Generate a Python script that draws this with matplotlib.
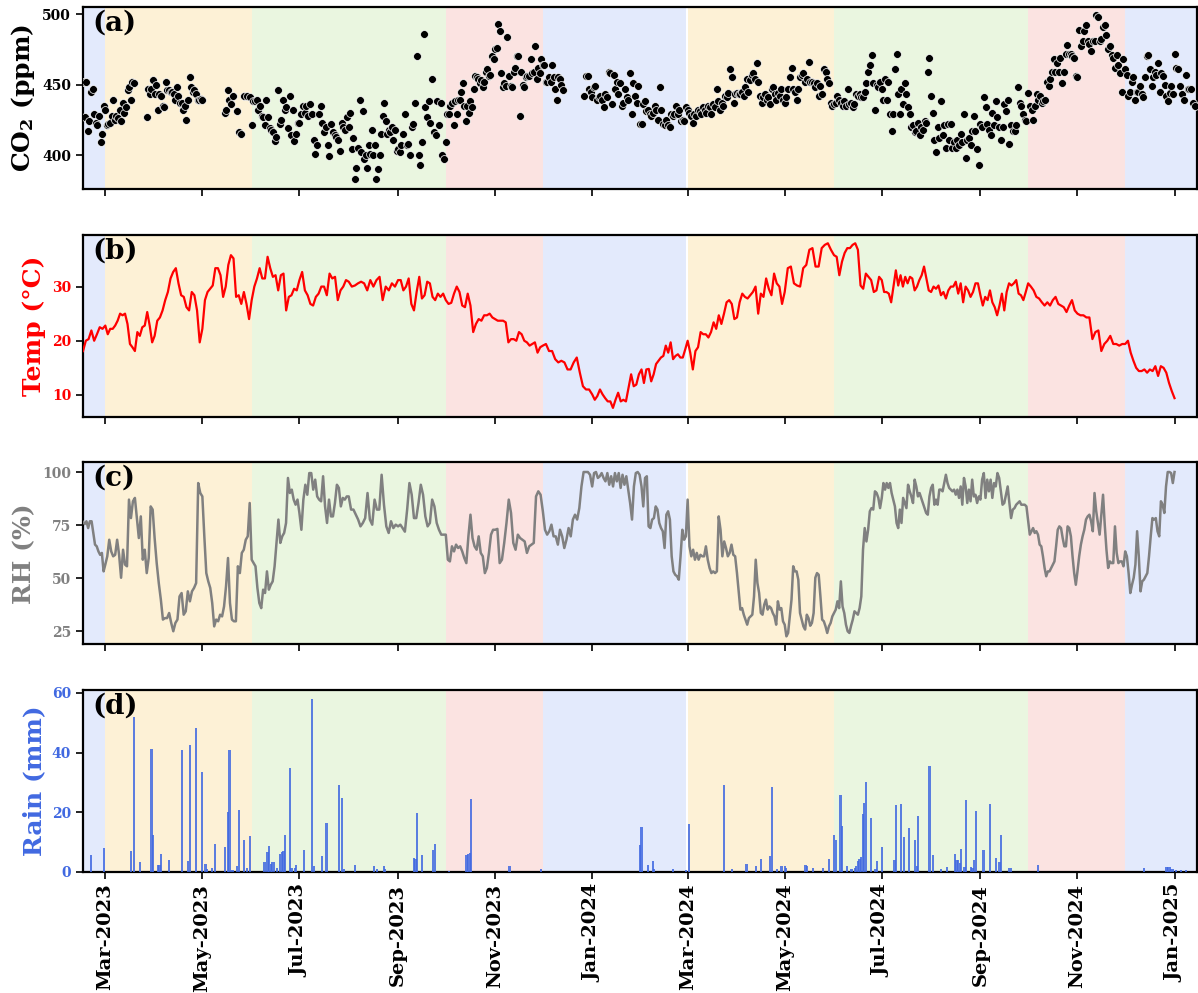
import numpy as np
import pandas as pd
import matplotlib
matplotlib.use('Agg')
import matplotlib.pyplot as plt
import matplotlib.dates as mdates

nan = np.nan

# Bornes des segments mensuels (premier segment : 15 fév -> 1er mars 2023)
edges = ([pd.Timestamp('2023-02-15')]
         + list(pd.date_range('2023-03-01', '2025-01-01', freq='MS'))
         + [pd.Timestamp('2025-01-15')])

# CO2 (ppm), une liste par mois : fév-23 ... déc-24, jan-25
co2_by_month = [
    [452, 427, 452, 417, 424, 445, 447, 429, 423, 421, 428, 409, 415, 435],
    [432, 421, 422, 423, 428, 439, 425, 428, 426, 432, 424, 437, 430, 434, 446, 448, 439, 452, 451,
     nan, nan, nan, nan, nan, nan, nan, 427, 447, 443, 447, 453],
    [443, 450, 432, 443, 442, 435, 434, 452, 446, 446, 445, 445, 443, 439, 448, 442, 437, 437, 432, 435,
     425, 439, 455, 448, 445, 446, 443, 439, 439, 440],
    [439, nan, nan, nan, nan, nan, nan, nan, nan, nan, nan, nan, nan, nan, 430, 432, 446, 439, 436, 442,
     nan, nan, 431, 416, 415, nan, 442, nan, 442, nan, 441],
    [421, 438, 438, 439, 432, 435, 428, 427, 421, 439, 427, 419, 418, 416, 410, 413, 446, 422, 425, 439,
     432, 434, 419, 442, 414, 432, 410, 415, 423],
    [423, 429, 435, 430, 435, 428, 436, 429, 411, 401, 407, 429, 435, 423, 416, 420, 407, 399, 422, 416,
     414, 413, 411, 403, 423, 420, 418, 427],
    [420, 430, 404, 412, 383, 391, 405, 439, 402, 431, 397, 400, 391, 407, 401, 418, 400, 407, 383, 390,
     400, 415, 428, 437, 424, 415, 418, 416, 420, 411, 418, 403],
    [404, 402, 407, 415, 429, 407, 408, 400, 420, 422, 437, 470, 400, 393, 409, 486, 434, 427, 438, 423,
     454, 416, 414, 438, 421, 437, 400, 397],
    [409, 429, 429, 435, 437, 421, 438, 429, 439, 439, 445, 451, 435, 424, 435, 430, 438, 434, 447, 456,
     455, 454, 451, 453, 448, 452, 459, 461, 456, 457, 470, 468],
    [475, 476, 493, 488, 458, 448, 451, 449, 484, 456, 449, 448, 459, 462, 470, 470, 428, 459, 450, 448,
     455, 456, 456, 468, 458, 459, 477, 454, 462, 458, 468],
    [464, 464, 452, 452, 455, 452, 464, 455, 447, 439, 455, 454, 450, 446, nan, nan, nan, nan, nan, nan,
     nan, nan, nan, nan, nan, nan, nan, 442, 456, 456, 447, 445],
    [441, 448, 449, 439, 441, 442, 439, 434, 443, 441, 459, 458, 436, 457, 447, 452, 443, 451, 435, 437,
     447, 441, 439, 458, 429, 451, 442, 437, 449, 422],
    [422, 436, 438, 431, 432, 429, 428, 430, 435, 432, 425, 448, 432, 422, 421, 425, 421, 420, 429, 428,
     429, 435, 429, 432, 424, 425, 424, 434],
    [432, 430, 428, 423, 429, 428, 432, 431, 429, 434, 432, 430, 435, 434, 429, 436, 434, 447, 438, 432,
     437, 435, 442, 441, 444, 461, 455, 437, 443],
    [444, 443, 443, 445, 442, 448, 454, 445, 453, 457, 458, 454, 465, 452, 442, 437, 441, 443, 439, 441,
     436, 447, 448, 443, 439, 444, 442, 447, 439],
    [437, 441, 447, 455, 462, 447, 445, 439, 447, 455, 457, 458, 452, 454, 466, 452, 452, 451, 448, 451,
     442, 449, 443, 461, 459, 454, 451, 437, 435],
    [436, 437, 442, 439, 437, 435, 438, 435, 447, 436, 437, 434, 436, 443, 442, 443, 441, 441, 445, 451,
     459, 464, 471, 451, 432, 450, 448, 452],
    [447, 439, 454, 439, 452, 429, 417, 429, 461, 472, 443, 429, 447, 436, 451, 443, 434, 429, 420, 421,
     416, 417, 423, 414, 420, 418, 424, 423, 459, 469],
    [442, 430, 411, 402, 420, 412, 438, 414, 421, 405, 422, 411, 422, 405, 409, 405, 411, 407, 415, 409,
     429, 398, 411, 412, 407, 417, 428, 417, 404, 393],
    [422, 420, 441, 434, 422, 418, 414, 430, 421, 438, 427, 420, 411, 420, 436, 431, 439, 408, 421, 417,
     417, 421, 448, 437, 435, 429, 425, 424],
    [444, 435, 432, 425, 435, 443, 439, 442, 437, 438, 439, 452, 449, 454, 459, 468, 459, 465, 459, 469,
     451, 459, 472, 478, 472, 472, 470, 469, 456],
    [455, 489, 477, 481, 488, 492, 481, 479, 474, 481, 481, 499, 498, 481, 482, 491, 492, 485, 475, 477,
     471, 469, 462, 471, 464, 458, 445, 468],
    [461, 457, 442, 445, 452, 455, 439, 445, 445, 449, 443, 441, 455, 470, 471, 461, 449, 455, 459, 457,
     465, 445, 458, 456, 450, 442, 438, 444, 449, 443],
    [472, 462, 461, 449, 443, 439, 457, 447, 447, 447, 437, 435],
]

# Température (°C)
temp_by_month = [
    [18.1, 20.0, 20.3, 21.9, 20.0, 21.2, 22.5, 22.2],
    [22.8, 21.2, 22.2, 22.2, 22.8, 23.7, 25.0, 24.7, 25.0, 23.1, 19.4, 18.8, 18.1, 21.6, 20.9, 22.5, 22.8, 25.3, 22.8, 19.7],
    [20.9, 23.7, 24.3, 25.6, 27.5, 29.0, 31.5, 32.7, 33.4, 30.6, 28.4, 28.1, 26.2, 25.6, 29.0, 28.4, 25.6, 19.7],
    [22.2, 27.5, 29.0, 29.6, 30.2, 33.4, 33.4, 32.1, 28.1, 30.0, 34.0, 35.8, 35.2, 28.1, 28.4, 26.8, 29.0, 26.8, 24.0],
    [27.5, 30.0, 31.5, 33.4, 31.5, 31.5, 35.5, 33.4, 31.8, 32.1, 29.3, 32.1, 32.4, 25.6, 28.1, 28.4, 29.6, 29.3],
    [31.2, 32.7, 29.3, 28.4, 26.8, 26.5, 28.1, 28.7, 30.0, 30.0, 28.4, 32.4, 31.5, 31.8, 27.5, 29.3, 30.0, 31.2],
    [30.9, 30.0, 30.2, 30.6, 30.9, 30.6, 29.3, 31.2, 30.0, 31.2, 31.8, 27.5, 30.0, 29.3, 30.6, 30.0],
    [31.2, 31.2, 29.3, 30.0, 31.5, 26.8, 25.6, 29.0, 31.8, 27.8, 28.4, 30.9, 30.6, 28.1, 27.5, 28.7, 28.1, 28.7],
    [27.5, 26.8, 27.0, 28.7, 30.0, 29.0, 26.5, 26.2, 28.7, 26.5, 21.6, 23.1, 24.0, 23.7, 24.7, 24.7, 25.0, 24.3],
    [24.0, 23.7, 23.7, 23.7, 23.4, 19.7, 20.3, 20.3, 20.0, 21.6, 21.2, 20.0, 19.7, 19.1, 19.4, 19.7, 17.8, 18.8],
    [19.1, 19.4, 18.1, 18.1, 16.6, 16.0, 16.3, 16.0, 14.7, 14.7, 16.0, 16.9, 14.1, 11.6, 11.0, 11.0],
    [10.1, 9.1, 9.8, 11.0, 10.1, 9.4, 8.8, 8.8, 7.6, 9.1, 10.4, 8.8, 9.1, 8.8, 11.3, 13.8, 11.6, 11.9, 13.8],
    [14.7, 12.2, 14.7, 14.8, 12.5, 13.8, 15.7, 16.3, 16.9, 17.2, 19.1, 17.8, 19.7, 16.6, 17.2, 17.5, 16.9, 16.9, 18.4],
    [20.0, 17.8, 14.7, 18.1, 18.8, 21.6, 21.2, 21.2, 20.6, 21.6, 23.4, 22.2, 24.7, 23.1, 25.0, 27.1, 27.5, 26.8, 24.0],
    [24.3, 27.1, 28.7, 28.1, 27.8, 28.4, 29.0, 30.0, 25.0, 28.7, 28.1, 31.5, 29.6, 28.4, 32.4, 30.6, 30.0, 26.8],
    [29.0, 33.4, 33.7, 30.6, 30.2, 30.0, 33.4, 34.0, 36.8, 37.1, 33.7, 33.7, 37.1, 37.7, 38.0, 36.8],
    [35.8, 35.5, 32.1, 34.6, 36.2, 37.1, 37.1, 37.7, 38.0, 36.8, 30.2, 29.6, 32.4, 31.8, 31.2, 29.0, 29.3, 31.8],
    [31.2, 29.0, 29.0, 28.7, 27.1, 30.0, 33.0, 30.2, 32.1, 30.0, 31.8, 30.6, 31.8, 31.5, 29.3, 30.0, 31.2, 32.1, 33.7, 31.5, 29.3],
    [29.0, 30.0, 29.6, 30.2, 28.4, 29.0, 27.8, 29.3, 30.0, 30.0, 30.9, 28.7, 30.6, 27.1, 30.0, 29.3, 28.1, 29.0, 30.6, 30.6],
    [28.4, 26.5, 28.1, 27.5, 29.3, 27.1, 26.2, 24.7, 26.5, 28.7, 25.6, 29.0, 30.6, 30.2, 30.6, 31.2, 28.7, 28.4, 27.5, 29.0],
    [30.6, 30.0, 29.3, 28.1, 27.8, 27.1, 26.5, 27.1, 26.5, 27.5, 28.1, 26.8, 26.5, 26.2, 25.3, 26.5, 27.5, 25.6],
    [25.0, 24.7, 24.7, 24.3, 24.3, 20.3, 21.6, 21.9, 18.1, 19.4, 20.0, 20.9, 19.4, 19.4, 19.1, 19.4],
    [19.4, 20.0, 17.8, 16.3, 15.0, 14.4, 14.4, 14.7, 14.1, 14.7, 14.4, 15.3, 13.5, 15.3, 15.0, 14.1, 12.2, 10.7],
    [9.4],
]

# Humidité relative (%)
rh_by_month = [
    [76.5, 75.5, 76.8, 73.6, 76.8, 76.8, 71.3, 65.8, 65.0, 62.6, 61.0, 61.9, 53.2],
    [56.4, 60.3, 68.1, 62.6, 60.3, 61.0, 68.1, 61.0, 50.2, 63.4, 56.4, 55.6, 87.0, 78.3, 86.2, 87.8, 78.3, 68.9, 79.1, 58.7,
     63.4, 52.4, 59.5, 83.8, 82.3],
    [68.9, 57.1, 47.7, 39.9, 30.5, 31.2, 31.2, 33.6, 28.9, 25.0, 28.9, 30.5, 41.4, 43.0, 32.8, 34.4, 43.8, 39.1, 43.8, 45.4,
     47.7, 94.8, 90.1],
    [88.5, 69.7, 52.4, 48.5, 45.4, 38.3, 27.3, 30.5, 29.7, 32.8, 32.0, 36.7, 46.2, 59.5, 38.3, 30.5, 29.7, 29.7, 55.6, 52.4,
     61.9, 63.4, 68.1, 69.7, 85.4],
    [58.7, 57.1, 55.6, 45.4, 38.3, 35.9, 44.6, 43.0, 53.2, 44.6, 46.9, 48.5, 55.6, 66.6, 77.6, 66.6, 69.7, 71.3, 76.0, 97.2,
     90.1, 91.7, 87.0, 84.6, 87.0],
    [80.7, 72.8, 87.0, 94.0, 89.3, 99.5, 99.5, 91.7, 96.4, 88.5, 87.0, 86.2, 98.0, 83.8, 76.0, 87.0, 79.1, 79.1, 85.4, 94.0,
     92.5, 83.8, 87.8, 87.0, 88.5],
    [88.5, 82.3, 82.3, 79.9, 77.6, 74.4, 76.0, 78.3, 90.1, 77.6, 75.2, 87.0, 82.3, 82.3, 98.7, 84.6, 74.4, 71.3, 76.8, 73.6, 75.2],
    [74.4, 75.2, 73.6, 71.9, 82.3, 94.8, 89.3, 78.3, 78.3, 85.4, 94.0, 89.3, 79.1, 74.4, 76.0, 87.0, 83.8, 76.0, 72.8, 70.5, 70.5],
    [70.5, 58.7, 57.9, 65.0, 62.6, 65.8, 64.2, 65.0, 62.6, 59.5, 57.1, 69.7, 79.9, 68.9, 65.0, 63.4, 69.7, 61.9, 60.3, 52.4,
     54.8, 61.9, 70.5, 72.8],
    [72.8, 73.2, 57.1, 58.7, 66.6, 76.0, 87.0, 80.7, 66.6, 63.4, 70.5, 68.9, 68.1, 67.3, 61.9, 65.0, 65.8, 66.6, 88.5, 90.9, 89.3],
    [81.5, 72.8, 70.5, 72.1, 75.2, 69.7, 69.7, 65.8, 72.8, 69.7, 64.2, 68.1, 73.6, 69.7, 77.6, 79.9, 77.6, 83.0, 93.2, 100.0,
     100.0, 100.0, 98.7],
    [93.2, 99.5, 100.0, 97.2, 98.0, 99.5, 97.2, 95.6, 99.5, 94.0, 98.0, 93.2, 99.5, 95.6, 99.5, 92.5, 98.7, 94.0, 98.0, 91.7,
     85.4, 77.6, 93.2, 99.5, 100.0, 98.7],
    [93.2, 83.8, 97.2, 98.0, 74.4, 73.6, 77.6, 78.3, 83.8, 82.3, 76.0, 73.6, 72.1, 64.2, 79.9, 81.5, 77.6, 60.3, 53.2, 51.6,
     50.9, 49.3, 60.3, 72.8, 68.1, 69.7],
    [87.0, 65.0, 60.3, 63.4, 58.7, 61.9, 58.7, 61.0, 60.3, 60.3, 65.0, 58.7, 54.8, 52.4, 53.2, 52.4, 53.2, 79.1, 72.8, 60.3,
     67.3, 64.2, 60.3, 61.9, 65.8, 61.0, 60.3],
    [52.4, 43.8, 35.2, 35.9, 32.8, 30.5, 28.1, 31.2, 32.0, 32.8, 41.4, 58.7, 47.7, 43.0, 33.6, 32.8, 37.5, 39.9, 35.2, 36.7,
     35.9, 33.6, 32.0, 28.1, 39.1, 35.2, 35.9, 29.7],
    [28.1, 22.6, 24.2, 32.0, 39.9, 55.6, 53.2, 53.2, 49.3, 33.6, 30.5, 27.3, 25.8, 32.8, 31.2, 27.6, 28.9, 33.6, 50.2, 52.4,
     51.6, 41.4, 30.5, 29.7, 27.3, 24.2, 27.3, 28.9, 32.0],
    [33.6, 35.2, 39.1, 35.9, 48.5, 36.7, 33.6, 28.1, 25.0, 24.2, 27.6, 30.5, 34.4, 33.6, 32.8, 35.9, 41.4, 63.4, 73.6, 67.3,
     72.8, 81.5, 83.0, 82.3, 90.9, 90.1, 87.8, 83.0],
    [87.8, 94.8, 91.7, 94.8, 92.5, 94.8, 90.1, 87.0, 83.8, 76.0, 73.6, 82.3, 76.0, 87.8, 85.4, 83.0, 94.0, 90.9, 88.5, 85.4,
     96.4, 93.2, 88.5, 90.1, 87.8, 85.4, 83.0, 80.7, 79.9, 88.5],
    [92.5, 94.0, 84.6, 87.0, 84.6, 91.7, 91.7, 90.9, 94.8, 98.7, 94.8, 92.5, 91.7, 90.9, 91.7, 89.3, 91.7, 87.8, 93.2, 84.6,
     97.2, 93.2, 85.4, 91.7, 86.2, 96.4, 88.5, 89.3, 85.4, 88.5],
    [87.0, 96.4, 99.5, 87.8, 96.4, 90.9, 96.4, 87.8, 94.8, 93.2, 99.5, 97.2, 90.9, 84.6, 85.4, 89.3, 93.2, 85.4, 78.3, 82.3,
     83.0, 84.6, 85.4, 86.2, 84.6, 84.6, 84.6, 83.8],
    [76.8, 70.5, 72.1, 73.6, 71.3, 72.1, 70.5, 65.8, 65.0, 60.3, 54.8, 50.9, 53.2, 53.2, 54.8, 56.4, 57.9, 65.0, 72.8, 74.4,
     73.6, 68.9, 65.0, 65.0, 74.4, 73.6, 69.7, 60.3, 52.4, 46.9],
    [53.2, 60.3, 65.8, 69.7, 72.8, 77.6, 79.1, 79.9, 76.8, 72.1, 90.1, 81.5, 76.0, 70.5, 79.9, 89.3, 75.2, 63.4, 54.8, 57.9,
     57.1, 57.1, 74.4, 61.9, 57.1, 57.9, 57.9, 55.6],
    [62.6, 60.3, 52.4, 43.0, 46.9, 50.2, 56.4, 72.1, 60.3, 43.8, 48.5, 49.3, 50.9, 52.4, 60.3, 69.7, 78.3, 77.6, 78.3, 72.1,
     69.7, 86.2, 84.6, 80.7, 93.2, 100.0, 100.0, 99.5, 94.8],
    [100.0],
]

# Pluie journalière (mm) : jours de pluie uniquement
rain_days = [
    '2023-02-20', '2023-02-28', '2023-03-17', '2023-03-19', '2023-03-23', '2023-03-30', '2023-03-31',
    '2023-04-03', '2023-04-04', '2023-04-05', '2023-04-10', '2023-04-18', '2023-04-22', '2023-04-23',
    '2023-04-27', '2023-05-01', '2023-05-03', '2023-05-04', '2023-05-07', '2023-05-09', '2023-05-15',
    '2023-05-17', '2023-05-18', '2023-05-20', '2023-05-23', '2023-05-24', '2023-05-27', '2023-05-29',
    '2023-05-31', '2023-06-09', '2023-06-11', '2023-06-12', '2023-06-13', '2023-06-14', '2023-06-15',
    '2023-06-17', '2023-06-19', '2023-06-20', '2023-06-21', '2023-06-22', '2023-06-25', '2023-06-26',
    '2023-06-28', '2023-06-29', '2023-07-04', '2023-07-09', '2023-07-10', '2023-07-15', '2023-07-18',
    '2023-07-26', '2023-07-28', '2023-07-29', '2023-08-05', '2023-08-17', '2023-08-19', '2023-08-23',
    '2023-08-24', '2023-09-11', '2023-09-12', '2023-09-13', '2023-09-16', '2023-09-23', '2023-09-24',
    '2023-10-03', '2023-10-14', '2023-10-15', '2023-10-16', '2023-10-17', '2023-11-10', '2023-11-30',
    '2024-01-31', '2024-02-01', '2024-02-05', '2024-02-08', '2024-02-09', '2024-02-21', '2024-02-29',
    '2024-03-02', '2024-03-24', '2024-03-29', '2024-04-07', '2024-04-13', '2024-04-16', '2024-04-22',
    '2024-04-23', '2024-04-26', '2024-04-29', '2024-05-01', '2024-05-02', '2024-05-14', '2024-05-15',
    '2024-05-19', '2024-05-25', '2024-05-29', '2024-06-01', '2024-06-02', '2024-06-05', '2024-06-06',
    '2024-06-09', '2024-06-12', '2024-06-14', '2024-06-15', '2024-06-16', '2024-06-17', '2024-06-18',
    '2024-06-19', '2024-06-20', '2024-06-21', '2024-06-24', '2024-06-27', '2024-06-28', '2024-07-01',
    '2024-07-09', '2024-07-10', '2024-07-13', '2024-07-15', '2024-07-18', '2024-07-22', '2024-07-23',
    '2024-07-24', '2024-07-31', '2024-08-02', '2024-08-07', '2024-08-11', '2024-08-16', '2024-08-17',
    '2024-08-18', '2024-08-19', '2024-08-20', '2024-08-22', '2024-08-23', '2024-08-26', '2024-08-27',
    '2024-08-28', '2024-08-29', '2024-09-03', '2024-09-07', '2024-09-11', '2024-09-13', '2024-09-14',
    '2024-09-19', '2024-09-20', '2024-10-07', '2024-12-13', '2024-12-27', '2024-12-28', '2024-12-29',
    '2024-12-30', '2024-12-31', '2025-01-02', '2025-01-05', '2025-01-08',
]
rain_mm = [
    5.6, 8.1, 6.9, 52.0, 3.3, 41.1, 12.4,
    2.2, 2.3, 5.9, 3.9, 41.0, 3.6, 42.4,
    48.1, 33.6, 2.6, 0.8, 1.4, 9.2, 8.3,
    20.2, 40.8, 0.5, 1.9, 20.8, 10.8, 1.2,
    12.1, 3.3, 6.7, 8.7, 2.8, 3.3, 3.3,
    1.4, 5.9, 6.7, 7.0, 12.4, 34.8, 1.4,
    1.4, 2.2, 7.2, 57.8, 2.0, 5.2, 16.3,
    29.1, 24.6, 0.8, 2.3, 2.0, 0.8, 1.8,
    1.0, 4.6, 4.4, 19.7, 5.6, 7.3, 9.2,
    0.3, 5.8, 6.1, 6.4, 24.4, 1.9, 1.0,
    8.9, 15.0, 2.2, 3.7, 0.8, 1.1, 0.6,
    15.9, 29.1, 0.8, 2.8, 2.0, 4.2, 5.2,
    28.6, 1.1, 2.0, 1.9, 1.3, 2.4, 1.9,
    1.3, 1.3, 4.2, 12.2, 10.6, 25.6, 15.3,
    2.1, 1.1, 1.3, 1.8, 3.8, 4.2, 5.0,
    19.4, 23.1, 30.0, 18.0, 1.1, 3.6, 8.3,
    4.1, 22.4, 22.8, 11.7, 14.8, 10.8, 2.0,
    18.6, 35.6, 5.6, 1.1, 1.7, 6.1, 3.9,
    3.9, 3.0, 7.6, 1.7, 24.2, 1.7, 1.3,
    3.9, 20.3, 7.2, 22.8, 4.7, 3.3, 12.2,
    1.4, 1.4, 2.4, 1.4, 1.7, 1.7, 1.5,
    1.0, 0.8, 0.6, 0.5, 0.5,
]

# Saisons (début, fin, saison)
season_start = ['2023-02-01', '2023-03-01', '2023-06-01', '2023-10-01', '2023-12-01',
                '2024-03-01', '2024-06-01', '2024-10-01', '2024-12-01']
season_end = ['2023-03-01', '2023-06-01', '2023-10-01', '2023-12-01', '2024-02-29',
              '2024-06-01', '2024-10-01', '2024-12-01', '2025-02-01']
season_name = ['hiver', 'printemps', 'ete', 'automne', 'hiver',
               'printemps', 'ete', 'automne', 'hiver']
season_colors = {'hiver': '#e3eafc', 'printemps': '#fdf1d6', 'ete': '#eaf6e0', 'automne': '#fbe3e1'}


def spread(segments):
    # répartit les valeurs de chaque mois régulièrement sur le mois
    xs, ys = [], []
    for k, vals in enumerate(segments):
        if len(vals) == 0:
            continue
        t0, t1 = edges[k], edges[k + 1]
        step = (t1 - t0) / len(vals)
        for j, v in enumerate(vals):
            xs.append(t0 + j * step)
            ys.append(v)
    return pd.DatetimeIndex(xs), np.array(ys, dtype=float)


co2_t, co2 = spread(co2_by_month)
temp_t, temp = spread(temp_by_month)
rh_t, rh = spread(rh_by_month)
rain_t = pd.to_datetime(rain_days)

plt.rcParams['font.family'] = 'DejaVu Serif'
plt.rcParams['font.weight'] = 'bold'
plt.rcParams['mathtext.fontset'] = 'custom'
plt.rcParams['mathtext.rm'] = 'DejaVu Serif:bold'
plt.rcParams['mathtext.default'] = 'rm'

fig, axes = plt.subplots(4, 1, sharex=True, figsize=(11.98, 9.93), dpi=100)
fig.subplots_adjust(left=0.0693, right=0.999, top=0.993, bottom=0.122, hspace=0.251)

for ax in axes:
    for s0, s1, name in zip(season_start, season_end, season_name):
        ax.axvspan(pd.Timestamp(s0), pd.Timestamp(s1), color=season_colors[name], lw=0, zorder=0)

ax1, ax2, ax3, ax4 = axes

# (a) CO2
ax1.scatter(co2_t, co2, s=32, c='black', edgecolors='white', linewidths=0.5, zorder=3)
ax1.set_ylim(376, 505)
ax1.set_yticks([400, 450, 500])
ax1.set_ylabel('CO$_2$ (ppm)', fontsize=18, fontweight='bold', color='black')

# (b) Température
ax2.plot(temp_t, temp, color='red', lw=1.6, zorder=3)
ax2.set_ylim(6.0, 39.6)
ax2.set_yticks([10, 20, 30])
ax2.set_ylabel('Temp (°C)', fontsize=18, fontweight='bold', color='red')
ax2.tick_params(axis='y', labelcolor='red')

# (c) Humidité relative
ax3.plot(rh_t, rh, color='gray', lw=1.8, zorder=3)
ax3.set_ylim(18.9, 104.6)
ax3.set_yticks([25, 50, 75, 100])
ax3.set_ylabel('RH (%)', fontsize=18, fontweight='bold', color='gray')
ax3.tick_params(axis='y', labelcolor='gray')

# (d) Pluie
ax4.bar(rain_t, rain_mm, width=1.4, color='royalblue', alpha=0.85, lw=0, zorder=3)
ax4.set_ylim(0, 61)
ax4.set_yticks([0, 20, 40, 60])
ax4.set_ylabel('Rain (mm)', fontsize=18, fontweight='bold', color='royalblue')
ax4.tick_params(axis='y', labelcolor='royalblue')

for ax, lab in zip(axes, ['(a)', '(b)', '(c)', '(d)']):
    ax.text(0.008, 0.985, lab, transform=ax.transAxes, fontsize=20, fontweight='bold',
            va='top', ha='left', zorder=5)
    ax.tick_params(axis='both', direction='out', length=5, width=1.2, labelsize=10)
    for sp in ax.spines.values():
        sp.set_linewidth(1.6)

ax4.set_xlim(pd.Timestamp('2023-02-15'), pd.Timestamp('2025-01-15'))
ax4.xaxis.set_major_locator(mdates.MonthLocator(bymonth=[1, 3, 5, 7, 9, 11]))
ax4.xaxis.set_major_formatter(mdates.DateFormatter('%b-%Y'))
plt.setp(ax4.get_xticklabels(), rotation=90, fontsize=14, fontweight='bold')

plt.savefig('out.png', dpi=100)
